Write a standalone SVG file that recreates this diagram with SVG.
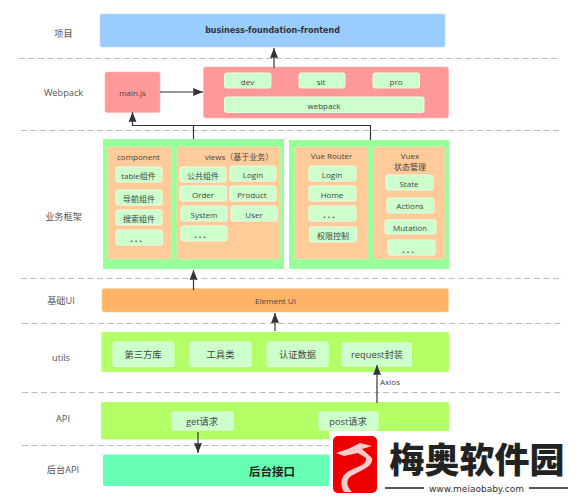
<svg xmlns="http://www.w3.org/2000/svg" width="579" height="500" viewBox="0 0 579 500">
<style>
text{font-family:"Open Sans","Noto Sans CJK SC",sans-serif;fill:#444;text-anchor:middle;dominant-baseline:central}
.lane{font-size:9.2px;fill:#555}
.s{font-size:8px}
.m{font-size:9.300px}
.e{font-size:9px;letter-spacing:2px;font-weight:700}
.i{fill:#ccffcc;stroke:#e4ffe4;stroke-width:1}
.o{fill:#ffcc99;stroke:#ffdcb8;stroke-width:.6}
.d{stroke:#bbb;stroke-width:1;stroke-dasharray:6 3.500;fill:none}
.c{stroke:#333;stroke-width:1.200;fill:none}
</style>
<defs><marker id="a" markerUnits="userSpaceOnUse" markerWidth="12" markerHeight="10" refX="10" refY="4.500" orient="auto"><path d="M0 0.500L10 4.500L0 8.500L0.500 4.500Z" fill="#333"/></marker></defs>
<rect width="579" height="500" fill="#fff"/>
<g id="lanes">
<path class="d" d="M19 58.500H560M21 130.500H562M21 278.500H563M22 323.500H564M22 392.500H563M22 445.500H563"/>
<text class="lane" x="63.500" y="33">项目</text>
<text class="lane" x="63.500" y="92">Webpack</text>
<text class="lane" x="63.500" y="216">业务框架</text>
<text class="lane" x="61" y="300.500">基础UI</text>
<text class="lane" x="61" y="357">utils</text>
<text class="lane" x="63" y="418.500">API</text>
<text class="lane" x="63" y="469">后台API</text>
</g>
<g id="project"><rect x="100" y="14" width="345" height="33" rx="2" fill="#99ccff" stroke="#b8dbff" stroke-width=".6"/><text x="272.500" y="30.500" style="font-size:8px;font-weight:700;font-family:'DejaVu Sans',sans-serif;fill:#333">business-foundation-frontend</text></g>
<g id="mainjs"><rect x="105" y="72" width="55" height="40.500" rx="2" fill="#ff9999" stroke="#ffb5b5" stroke-width=".6"/><text class="s" x="132.500" y="92">main.js</text></g>
<g id="webpack"><rect x="203.500" y="67" width="245" height="51" rx="2" fill="#ff9999" stroke="#ffb5b5" stroke-width=".6"/>
<rect class="i" x="224.500" y="73" width="46.500" height="15" rx="2"/><text class="s" x="247.500" y="81">dev</text>
<rect class="i" x="299" y="73" width="46" height="15" rx="2"/><text class="s" x="321" y="81">sit</text>
<rect class="i" x="373" y="73" width="46.500" height="15" rx="2"/><text class="s" x="396" y="81">pro</text>
<rect class="i" x="224.500" y="97" width="199.500" height="15.500" rx="2"/><text class="s" x="324" y="105">webpack</text></g>
<g id="frontend"><rect x="103" y="139" width="181" height="130" fill="#99ff99"/>
<g id="component"><rect class="o" x="107.500" y="147" width="63.500" height="112" rx="2"/><text class="s" x="138.500" y="156">component</text>
<rect class="i" x="116" y="167" width="46" height="15" rx="2"/><text class="s" x="138.500" y="175">table组件</text>
<rect class="i" x="116" y="190" width="46" height="15" rx="2"/><text class="s" x="139" y="198">导航组件</text>
<rect class="i" x="116" y="210" width="46" height="15" rx="2"/><text class="s" x="139" y="218">搜索组件</text>
<rect class="i" x="116" y="230" width="46.500" height="15" rx="2"/><text class="e" x="137" y="238">...</text></g>
<g id="views"><rect class="o" x="177" y="147" width="103" height="112" rx="2"/><text class="s" x="239" y="156">views（基于业务）</text>
<rect class="i" x="180" y="167" width="46" height="15" rx="2"/><text class="s" x="203" y="175">公共组件</text>
<rect class="i" x="230" y="166" width="46" height="15" rx="2"/><text class="s" x="253" y="174">Login</text>
<rect class="i" x="180" y="186" width="46.500" height="15" rx="2"/><text class="s" x="203" y="194">Order</text>
<rect class="i" x="230" y="186" width="46" height="15" rx="2"/><text class="s" x="252" y="194">Product</text>
<rect class="i" x="181" y="206" width="46" height="15" rx="2"/><text class="s" x="204" y="214">System</text>
<rect class="i" x="231" y="206" width="46" height="15" rx="2"/><text class="s" x="254" y="214">User</text>
<rect class="i" x="181" y="226" width="46" height="15" rx="2"/><text class="e" x="201" y="234">...</text></g></g>
<g id="state"><rect x="289" y="140" width="160" height="129" fill="#99ff99"/>
<g id="router"><rect class="o" x="295" y="147" width="73" height="112" rx="2"/><text class="s" x="331.500" y="155">Vue Router</text>
<rect class="i" x="309" y="166" width="47" height="15" rx="2"/><text class="s" x="332" y="174">Login</text>
<rect class="i" x="309" y="186" width="47" height="15" rx="2"/><text class="s" x="332" y="194">Home</text>
<rect class="i" x="309" y="206" width="47" height="15" rx="2"/><text class="e" x="330" y="214">...</text>
<rect class="i" x="309.500" y="227" width="47" height="15" rx="2"/><text class="s" x="333" y="235">权限控制</text></g>
<g id="vuex"><rect class="o" x="374" y="147" width="70.500" height="112" rx="2"/><text class="s" x="410" y="155">Vuex</text><text class="s" x="410" y="166">状态管理</text>
<rect class="i" x="386" y="175" width="47" height="15" rx="2"/><text class="s" x="409" y="183">State</text>
<rect class="i" x="387" y="198" width="47" height="15" rx="2"/><text class="s" x="410" y="205">Actions</text>
<rect class="i" x="385" y="220" width="51" height="14" rx="2"/><text class="s" x="410" y="227">Mutation</text>
<rect class="i" x="388" y="240" width="47" height="15" rx="2"/><text class="e" x="409" y="249">...</text></g></g>
<g id="element"><rect x="102" y="288.500" width="346.500" height="23.500" rx="2" fill="#ffb366" stroke="#ffd0a0" stroke-width=".6"/><text class="s" x="275.500" y="300.500">Element UI</text></g>
<g id="utils"><rect x="101.500" y="332" width="347.500" height="40" rx="2" fill="#b3ff66"/>
<rect class="i" x="113" y="342" width="61" height="24.500" rx="2"/><text class="m" x="143" y="354.500">第三方库</text>
<rect class="i" x="190" y="342" width="61" height="24.500" rx="2"/><text class="m" x="220.500" y="354.500">工具类</text>
<rect class="i" x="267" y="342" width="61" height="24.500" rx="2"/><text class="m" x="297.500" y="354.500">认证数据</text>
<rect class="i" x="342" y="343" width="69.500" height="23" rx="2"/><text class="m" x="377" y="354.500">request封装</text></g>
<g id="api"><rect x="101" y="402" width="348" height="37.500" rx="2" fill="#b3ff66"/>
<rect class="i" x="172" y="412" width="61" height="18" rx="2"/><text class="m" x="202" y="421">get请求</text>
<rect class="i" x="319" y="412" width="59" height="18" rx="2"/><text class="m" x="348" y="421">post请求</text></g>
<g id="backend"><rect x="103" y="454.500" width="346" height="31.500" rx="2" fill="#66ffb3"/><text x="272" y="471" style="font-size:11.500px;font-weight:700;fill:#222">后台接口</text></g>
<g id="connectors">
<path class="c" marker-end="url(#a)" d="M274 68V48"/>
<path class="c" marker-end="url(#a)" d="M160 92H203"/>
<path class="c" marker-end="url(#a)" d="M193.500 139V125.500H132.500V112"/>
<path class="c" d="M193.500 125.500H370.500V140"/>
<path class="c" marker-end="url(#a)" d="M193.500 290V270"/>
<path class="c" marker-end="url(#a)" d="M275 331V313"/>
<path class="c" marker-end="url(#a)" d="M377 403V365"/>
<path class="c" marker-end="url(#a)" d="M198 432V453"/>
<text class="s" x="390" y="381">Axios</text>
</g>
<g id="watermark"><rect x="329" y="431" width="250" height="69" fill="#fff"/>
<rect x="333" y="436" width="44" height="57" rx="5" fill="#ee0000"/>
<path d="M336 453L348 449L360 443L372 446L362 449L372 458C374 466 362 470 351 476C346 480 346 486 352 492L344 492C339 484 341 474 351 470C360 466 367 464 366 458L358 453L344 456Z" fill="#fff" fill-opacity=".8"/>
<text x="477" y="457.500" style="font-size:35px;font-weight:900;fill:#222;font-family:'Noto Sans CJK SC',sans-serif">梅奥软件园</text>
<path d="M385 488H424M529 488H568" stroke="#222" stroke-width="1.500"/>
<text x="476.500" y="489" style="font-size:9px;fill:#333;font-family:'DejaVu Sans',sans-serif">www.meiaobaby.com</text></g>
</svg>
